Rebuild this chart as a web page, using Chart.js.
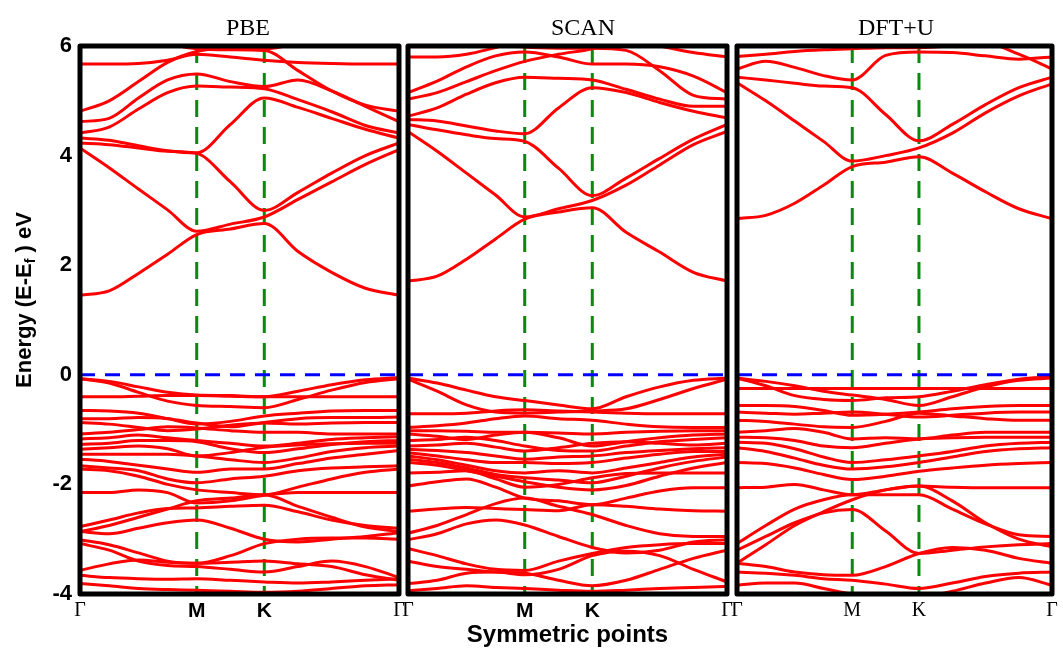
<!DOCTYPE html>
<html>
<head>
<meta charset="utf-8">
<script src="https://cdn.jsdelivr.net/npm/chart.js@4.4.0/dist/chart.umd.min.js"></script>
<style>
  html, body { margin: 0; padding: 0; background: #fff; overflow: hidden; }
  #wrap { position: relative; width: 1063px; height: 653px; overflow: hidden; background: #fff; }
  canvas { position: absolute; top: 0; }
</style>
</head>
<body>
<div id="wrap">
  <canvas id="pbe"></canvas>
  <canvas id="scan"></canvas>
  <canvas id="dftu"></canvas>
</div>
<script>
// k-path Γ–M–K–Γ (distance along the path) and the sampled k-points
const kPath = [0, 0.144, 0.289, 0.433, 0.577, 0.744, 0.911, 1.078, 1.244, 1.411, 1.577];
const kTickPos = [0, 0.577, 0.911, 1.577];
const kTickLabels = ['Γ', 'M', 'K', 'Γ'];
const energyTicks = [-4, -2, 0, 2, 4, 6];
const panelTitles = ['PBE', 'SCAN', 'DFT+U'];

// PBE bands (eV), one row per band, one value per k-point
const pbeConduction = [
  [1.45, 1.53, 1.85, 2.20, 2.56, 2.66, 2.76, 2.25, 1.87, 1.58, 1.45],
  [4.14, 3.78, 3.39, 3.01, 2.62, 2.75, 2.88, 3.20, 3.52, 3.84, 4.11],
  [4.23, 4.20, 4.14, 4.08, 4.04, 3.52, 3.00, 3.33, 3.68, 4.00, 4.23],
  [4.32, 4.28, 4.18, 4.09, 4.05, 4.57, 5.05, 4.88, 4.68, 4.48, 4.32],
  [4.41, 4.52, 4.85, 5.15, 5.27, 5.25, 5.22, 5.02, 4.80, 4.55, 4.41],
  [4.62, 4.68, 5.05, 5.38, 5.49, 5.35, 5.26, 5.38, 5.18, 4.90, 4.62],
  [5.67, 5.67, 5.68, 5.74, 5.85, 5.80, 5.74, 5.70, 5.68, 5.67, 5.67],
  [4.81, 5.00, 5.35, 5.70, 5.90, 5.96, 5.95, 6.05, 6.25, 6.45, 6.60],
  [6.60, 6.45, 6.25, 6.05, 5.95, 5.93, 5.92, 5.55, 5.18, 4.92, 4.81]
];
const pbeValence = [
  [-0.07, -0.12, -0.22, -0.32, -0.37, -0.38, -0.40, -0.30, -0.18, -0.09, -0.05],
  [-0.07, -0.15, -0.32, -0.48, -0.56, -0.58, -0.60, -0.45, -0.28, -0.14, -0.07],
  [-0.40, -0.40, -0.39, -0.38, -0.38, -0.39, -0.40, -0.40, -0.40, -0.40, -0.40],
  [-0.65, -0.66, -0.70, -0.80, -0.90, -0.85, -0.75, -0.70, -0.66, -0.65, -0.65],
  [-0.80, -0.80, -0.78, -0.80, -0.88, -0.95, -0.87, -0.80, -0.78, -0.78, -0.77],
  [-0.87, -0.90, -0.96, -1.02, -0.99, -0.92, -0.88, -0.90, -0.88, -0.87, -0.87],
  [-1.08, -1.05, -1.00, -0.95, -0.97, -1.02, -1.05, -1.05, -1.08, -1.08, -1.08],
  [-1.17, -1.15, -1.10, -1.15, -1.20, -1.25, -1.30, -1.25, -1.18, -1.15, -1.13],
  [-1.27, -1.25, -1.20, -1.20, -1.22, -1.35, -1.42, -1.35, -1.27, -1.22, -1.20],
  [-1.36, -1.33, -1.30, -1.35, -1.48, -1.42, -1.32, -1.28, -1.26, -1.25, -1.25],
  [-1.45, -1.45, -1.45, -1.45, -1.48, -1.55, -1.60, -1.52, -1.40, -1.33, -1.30],
  [-1.54, -1.58, -1.65, -1.72, -1.78, -1.72, -1.72, -1.62, -1.52, -1.45, -1.38],
  [-1.66, -1.70, -1.75, -1.90, -1.97, -1.90, -1.85, -1.75, -1.70, -1.68, -1.66],
  [-1.72, -1.75, -1.85, -2.00, -2.10, -2.15, -2.19, -2.05, -1.90, -1.78, -1.72],
  [-2.15, -2.15, -2.10, -2.15, -2.34, -2.30, -2.20, -2.15, -2.15, -2.15, -2.15],
  [-2.77, -2.65, -2.52, -2.44, -2.43, -2.40, -2.38, -2.50, -2.65, -2.75, -2.80],
  [-2.86, -2.75, -2.60, -2.45, -2.30, -2.25, -2.19, -2.40, -2.60, -2.78, -2.86],
  [-2.86, -2.90, -2.80, -2.70, -2.65, -2.80, -3.00, -3.05, -3.00, -2.95, -2.88],
  [-3.01, -3.10, -3.25, -3.40, -3.44, -3.30, -3.08, -3.00, -2.98, -2.98, -3.00],
  [-3.08, -3.20, -3.40, -3.48, -3.50, -3.55, -3.60, -3.50, -3.40, -3.50, -3.70],
  [-3.57, -3.45, -3.38, -3.42, -3.44, -3.42, -3.40, -3.45, -3.50, -3.65, -3.75],
  [-3.66, -3.70, -3.72, -3.73, -3.72, -3.75, -3.78, -3.80, -3.78, -3.75, -3.72],
  [-3.81, -3.85, -3.90, -3.92, -3.93, -3.95, -3.97, -3.95, -3.90, -3.85, -3.83]
];

// SCAN bands (eV)
const scanConduction = [
  [1.71, 1.80, 2.11, 2.48, 2.84, 2.97, 3.05, 2.60, 2.24, 1.87, 1.71],
  [4.44, 4.08, 3.68, 3.28, 2.88, 3.03, 3.18, 3.46, 3.83, 4.20, 4.44],
  [4.57, 4.47, 4.38, 4.31, 4.26, 3.77, 3.27, 3.59, 3.95, 4.30, 4.57],
  [4.66, 4.63, 4.54, 4.45, 4.40, 4.87, 5.24, 5.15, 4.97, 4.81, 4.69],
  [4.72, 4.87, 5.12, 5.33, 5.43, 5.41, 5.38, 5.21, 5.03, 4.90, 4.90],
  [5.15, 5.36, 5.62, 5.82, 5.89, 5.80, 5.67, 5.67, 5.62, 5.45, 5.15],
  [5.03, 5.15, 5.35, 5.55, 5.72, 5.85, 5.95, 6.15, 6.35, 6.50, 6.60],
  [5.80, 5.80, 5.85, 5.97, 6.10, 6.05, 6.00, 6.10, 6.00, 5.88, 5.80],
  [6.60, 6.45, 6.25, 6.05, 5.98, 5.96, 5.96, 5.92, 5.55, 5.10, 5.03]
];
const scanValence = [
  [-0.06, -0.15, -0.28, -0.40, -0.47, -0.55, -0.62, -0.40, -0.22, -0.10, -0.06],
  [-0.08, -0.30, -0.55, -0.68, -0.70, -0.68, -0.66, -0.62, -0.45, -0.25, -0.08],
  [-0.71, -0.71, -0.70, -0.66, -0.64, -0.66, -0.68, -0.70, -0.71, -0.71, -0.71],
  [-0.96, -0.93, -0.88, -0.80, -0.75, -0.80, -0.83, -0.90, -0.95, -0.96, -0.96],
  [-1.02, -1.02, -1.03, -1.05, -1.05, -1.06, -1.08, -1.05, -1.03, -1.02, -1.02],
  [-1.08, -1.12, -1.18, -1.10, -1.05, -1.15, -1.30, -1.22, -1.15, -1.10, -1.08],
  [-1.20, -1.18, -1.14, -1.20, -1.30, -1.38, -1.39, -1.30, -1.22, -1.18, -1.15],
  [-1.30, -1.28, -1.25, -1.32, -1.39, -1.33, -1.25, -1.22, -1.25, -1.28, -1.25],
  [-1.36, -1.38, -1.42, -1.48, -1.54, -1.50, -1.48, -1.42, -1.38, -1.35, -1.33],
  [-1.42, -1.48, -1.55, -1.60, -1.60, -1.62, -1.60, -1.52, -1.45, -1.40, -1.40],
  [-1.48, -1.55, -1.65, -1.75, -1.79, -1.75, -1.79, -1.70, -1.60, -1.50, -1.45],
  [-1.54, -1.60, -1.70, -1.82, -1.88, -1.92, -1.97, -1.85, -1.70, -1.58, -1.50],
  [-1.60, -1.65, -1.75, -1.85, -1.95, -2.05, -2.10, -2.02, -1.85, -1.70, -1.60],
  [-1.79, -1.78, -1.75, -1.90, -2.05, -2.00, -1.88, -1.80, -1.79, -1.79, -1.79],
  [-2.03, -1.95, -1.90, -2.05, -2.25, -2.30, -2.37, -2.25, -2.12, -2.06, -2.06],
  [-2.49, -2.45, -2.42, -2.44, -2.46, -2.48, -2.37, -2.40, -2.45, -2.48, -2.49],
  [-2.89, -2.75, -2.55, -2.35, -2.25, -2.40, -2.55, -2.75, -2.90, -2.95, -2.95],
  [-3.01, -2.90, -2.72, -2.65, -2.74, -2.95, -3.15, -3.25, -3.20, -3.05, -3.01],
  [-3.17, -3.30, -3.45, -3.55, -3.57, -3.40, -3.26, -3.15, -3.10, -3.08, -3.08],
  [-3.40, -3.50, -3.55, -3.60, -3.62, -3.75, -3.85, -3.75, -3.55, -3.35, -3.20],
  [-3.81, -3.75, -3.62, -3.60, -3.65, -3.55, -3.30, -3.22, -3.30, -3.55, -3.78],
  [-3.94, -3.90, -3.85, -3.88, -3.90, -3.93, -3.95, -3.93, -3.90, -3.88, -3.86]
];

// DFT+U bands (eV)
const dftuConduction = [
  [2.85, 2.91, 3.13, 3.46, 3.80, 3.88, 3.98, 3.68, 3.34, 3.03, 2.85],
  [5.33, 5.00, 4.63, 4.26, 3.90, 4.00, 4.14, 4.41, 4.78, 5.09, 5.31],
  [5.43, 5.38, 5.32, 5.27, 5.24, 4.75, 4.27, 4.57, 4.93, 5.24, 5.43],
  [5.58, 5.72, 5.61, 5.46, 5.38, 5.83, 5.89, 5.88, 5.82, 5.76, 5.80],
  [5.81, 5.85, 5.90, 5.93, 5.95, 5.97, 5.97, 6.00, 6.05, 5.85, 5.58]
];
const dftuValence = [
  [-0.06, -0.12, -0.20, -0.30, -0.37, -0.45, -0.56, -0.40, -0.22, -0.10, -0.06],
  [-0.06, -0.20, -0.38, -0.45, -0.47, -0.42, -0.40, -0.30, -0.18, -0.08, -0.04],
  [-0.25, -0.25, -0.25, -0.25, -0.25, -0.25, -0.25, -0.25, -0.25, -0.25, -0.25],
  [-0.56, -0.56, -0.58, -0.65, -0.74, -0.72, -0.68, -0.62, -0.58, -0.56, -0.56],
  [-0.68, -0.70, -0.72, -0.70, -0.68, -0.72, -0.77, -0.74, -0.70, -0.68, -0.68],
  [-0.83, -0.85, -0.90, -0.95, -0.96, -0.85, -0.70, -0.75, -0.80, -0.83, -0.83],
  [-1.05, -1.02, -0.98, -1.05, -1.17, -1.15, -1.17, -1.10, -1.05, -1.05, -1.05],
  [-1.14, -1.15, -1.20, -1.30, -1.33, -1.25, -1.17, -1.15, -1.14, -1.14, -1.14],
  [-1.23, -1.25, -1.35, -1.50, -1.60, -1.55, -1.48, -1.40, -1.30, -1.25, -1.23],
  [-1.33, -1.40, -1.52, -1.65, -1.72, -1.68, -1.60, -1.50, -1.40, -1.35, -1.33],
  [-1.60, -1.62, -1.70, -1.82, -1.91, -1.85, -1.76, -1.70, -1.65, -1.62, -1.60],
  [-2.06, -2.05, -2.00, -2.10, -2.19, -2.10, -2.03, -2.05, -2.06, -2.06, -2.06],
  [-3.08, -2.75, -2.45, -2.28, -2.19, -2.19, -2.19, -2.45, -2.72, -2.92, -2.95],
  [-3.20, -2.95, -2.70, -2.52, -2.46, -2.85, -3.26, -3.20, -3.14, -3.10, -3.08],
  [-3.44, -3.10, -2.75, -2.50, -2.28, -2.10, -2.03, -2.30, -2.70, -3.00, -3.14],
  [-3.44, -3.50, -3.60, -3.65, -3.66, -3.50, -3.26, -3.15, -3.20, -3.35, -3.44],
  [-3.60, -3.62, -3.66, -3.72, -3.75, -3.82, -3.90, -3.80, -3.68, -3.62, -3.60],
  [-3.84, -3.80, -3.80, -3.90, -4.00, -4.05, -4.05, -3.95, -3.80, -3.70, -3.84]
];

const SANS = '"Liberation Sans", Arial, sans-serif';
const SERIF = '"Liberation Serif", "Times New Roman", serif';
Chart.defaults.font.family = SANS;
Chart.defaults.color = '#000';

// Black frame around the plot area plus the panel heading
const panelFrame = {
  id: 'panelFrame',
  afterDatasetsDraw(chart, args, opts) {
    const { ctx, chartArea: a } = chart;
    ctx.save();
    ctx.lineWidth = 5;
    ctx.strokeStyle = '#000';
    ctx.lineJoin = 'round';
    ctx.strokeRect(a.left, a.top, a.right - a.left, a.bottom - a.top);
    if (opts.title) {
      ctx.fillStyle = '#000';
      ctx.font = '24px ' + SERIF;
      ctx.textAlign = 'center';
      ctx.textBaseline = 'alphabetic';
      ctx.fillText(opts.title, opts.titleX, 35);
    }
    ctx.restore();
  }
};

// Rotated energy axis title with the subscripted "f"
const energyTitle = {
  id: 'energyTitle',
  afterDraw(chart, args, opts) {
    if (!opts.show) return;
    const { ctx } = chart;
    const parts = [
      { t: 'Energy (E-E', f: 'bold 22px ' + SANS, dy: 0 },
      { t: 'f', f: 'bold 14px ' + SANS, dy: 6 },
      { t: ' ) eV', f: 'bold 22px ' + SANS, dy: 0 }
    ];
    ctx.save();
    let total = 0;
    parts.forEach(p => { ctx.font = p.f; p.w = ctx.measureText(p.t).width; total += p.w; });
    ctx.translate(opts.x, opts.y);
    ctx.rotate(-Math.PI / 2);
    ctx.fillStyle = '#000';
    ctx.textBaseline = 'middle';
    ctx.textAlign = 'left';
    let x = -total / 2;
    parts.forEach(p => { ctx.font = p.f; ctx.fillText(p.t, x, p.dy); x += p.w; });
    ctx.restore();
  }
};

function bandSets(bands) {
  return bands.map(b => ({
    data: kPath.map((k, i) => ({ x: k, y: b[i] })),
    borderColor: '#ff0000',
    borderWidth: 3,
    pointRadius: 0,
    fill: false,
    cubicInterpolationMode: 'monotone',
    order: 1
  }));
}

function guideSets() {
  const vert = [kTickPos[1], kTickPos[2]].map(k => ({
    data: [{ x: k, y: energyTicks[energyTicks.length - 1] }, { x: k, y: energyTicks[0] }],
    borderColor: '#0a8a0a',
    borderWidth: 3,
    borderDash: [17, 10],
    pointRadius: 0,
    fill: false,
    order: 2
  }));
  const fermi = {
    data: [{ x: kTickPos[0], y: 0 }, { x: kTickPos[3], y: 0 }],
    borderColor: '#0000ff',
    borderWidth: 3,
    borderDash: [15, 10],
    pointRadius: 0,
    fill: false,
    order: 0
  };
  return [fermi, ...vert];
}

const panels = [
  { id: 'pbe',  left: 0,   areaL: 80,  areaR: 399,  bands: [...pbeConduction, ...pbeValence],   title: panelTitles[0], titleX: 248, yAxis: true,  serifKM: false, xTitle: '' },
  { id: 'scan', left: 388, areaL: 408, areaR: 727,  bands: [...scanConduction, ...scanValence], title: panelTitles[1], titleX: 583, yAxis: false, serifKM: false, xTitle: 'Symmetric points' },
  { id: 'dftu', left: 717, areaL: 737, areaR: 1052, bands: [...dftuConduction, ...dftuValence], title: panelTitles[2], titleX: 896, yAxis: false, serifKM: true,  xTitle: '' }
];

const H = 653, TOP = 46, BOTTOM = 594, SIDE = 20;

panels.forEach(p => {
  const canvas = document.getElementById(p.id);
  const padL = p.areaL - p.left;
  const w = padL + (p.areaR - p.areaL) + SIDE;
  canvas.width = w; canvas.height = H;
  canvas.style.left = p.left + 'px';
  canvas.style.width = w + 'px'; canvas.style.height = H + 'px';

  new Chart(canvas, {
    type: 'line',
    data: { datasets: [...guideSets(), ...bandSets(p.bands)] },
    plugins: [panelFrame, energyTitle],
    options: {
      responsive: false,
      animation: false,
      devicePixelRatio: 1,
      layout: { padding: { left: p.yAxis ? 0 : padL, right: SIDE, top: TOP, bottom: 0 } },
      plugins: {
        legend: { display: false },
        tooltip: { enabled: false },
        panelFrame: { title: p.title, titleX: p.titleX - p.left },
        energyTitle: { show: p.yAxis, x: 25, y: 300 }
      },
      scales: {
        x: {
          type: 'linear',
          min: kTickPos[0],
          max: kTickPos[3],
          grid: { display: false, drawTicks: false },
          border: { display: false },
          afterBuildTicks: s => { s.ticks = kTickPos.map(v => ({ value: v })); },
          afterFit: s => { s.height = H - BOTTOM; },
          ticks: {
            autoSkip: false,
            maxRotation: 0,
            padding: 5,
            color: '#000',
            callback: (v, i) => kTickLabels[i],
            font: ctx => {
              const lbl = kTickLabels[ctx.index];
              if (lbl === 'Γ' || p.serifKM) return { family: SERIF, size: 20, weight: 'normal' };
              return { family: SANS, size: 21, weight: 'bold' };
            }
          },
          title: {
            display: !!p.xTitle,
            text: p.xTitle,
            color: '#000',
            font: { family: SANS, size: 24, weight: 'bold' },
            padding: { top: 0, bottom: 3 }
          }
        },
        y: {
          type: 'linear',
          display: p.yAxis,
          min: energyTicks[0],
          max: energyTicks[energyTicks.length - 1],
          grid: { display: false, drawTicks: false },
          border: { display: false },
          afterFit: s => { s.width = p.yAxis ? (p.areaL - p.left) : 0; },
          ticks: {
            stepSize: 2,
            padding: 8,
            color: '#000',
            font: { family: SANS, size: 22, weight: 'bold' },
            callback: v => String(v)
          }
        }
      }
    }
  });
});
</script>
</body>
</html>
